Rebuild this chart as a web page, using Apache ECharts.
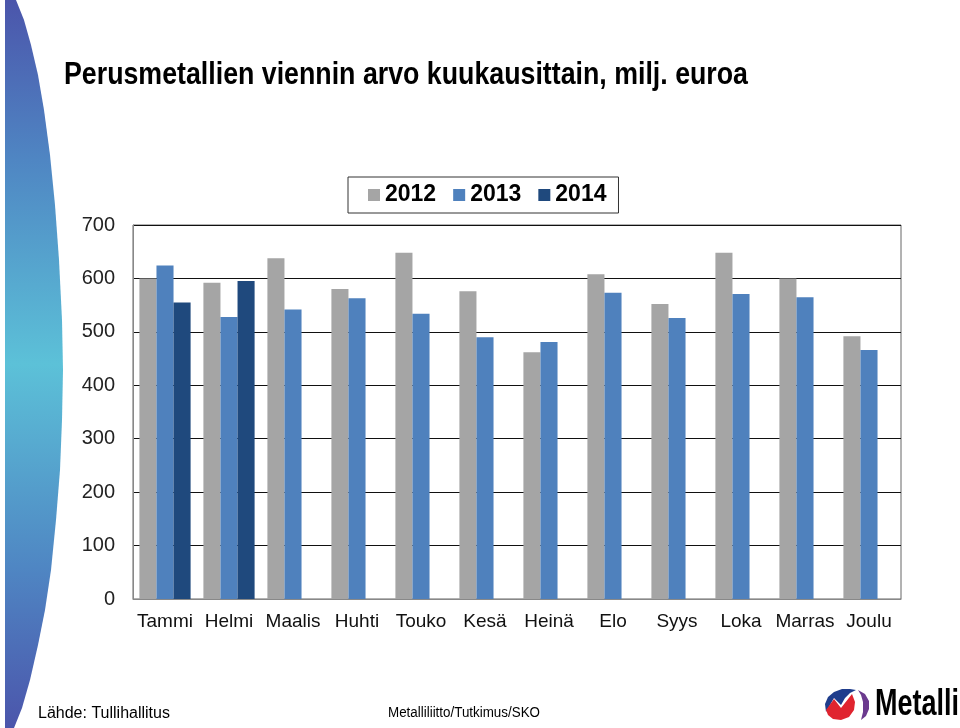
<!DOCTYPE html>
<html>
<head>
<meta charset="utf-8">
<script src="https://cdn.jsdelivr.net/npm/echarts@6/dist/echarts.min.js"></script>
<style>html,body{margin:0;padding:0;background:#fff;}#c{width:960px;height:728px;}</style>
</head>
<body>
<div id="c"></div>
<script>
var months = ['Tammi','Helmi','Maalis','Huhti','Touko','Kesä','Heinä','Elo','Syys','Loka','Marras','Joulu'];
var seriesNames = ['2012','2013','2014'];
var v2012 = [600, 592, 638, 580, 648, 576, 462, 608, 552, 648, 600, 492];
var v2013 = [624, 528, 542, 563, 534, 490, 481, 573, 526, 571, 565, 466];
var v2014 = [555, 595, null, null, null, null, null, null, null, null, null, null];
var yTicks = [0, 100, 200, 300, 400, 500, 600, 700];
var titleText = 'Perusmetallien viennin arvo kuukausittain, milj. euroa';
var sourceText = 'Lähde: Tullihallitus';
var footerText = 'Metalliliitto/Tutkimus/SKO';
var logoText = 'Metalli';

function fitScale(text, font, width) {
  var ctx = document.createElement('canvas').getContext('2d');
  ctx.font = font;
  return width / ctx.measureText(text).width;
}
var titleFont = 'bold 31px "Liberation Sans", Arial, sans-serif';
var titleScale = fitScale(titleText, titleFont, 684);
var logoFont = 'bold 36px "Liberation Sans", Arial, sans-serif';
var logoScale = fitScale(logoText, logoFont, 84);
var footerFont = '14px "Liberation Sans", Arial, sans-serif';
var footerScale = fitScale(footerText, footerFont, 152);

// decorative swoosh outline
var swoosh = [[5,0],[16,0],[24,20],[31,45],[38,75],[44,110],[50,155],[55,205],[59,260],[62,320],[63,370],[62,420],[60,470],[56,520],[51,570],[45,610],[38,645],[30,680],[22,708],[14,728],[5,728]];
// logo icon pieces
var logoBlue = [[826,712],[825,704],[828,697],[834,692],[842,689],[850,689],[856,690],[850,693],[845,698],[841,705],[834,698]];
var logoRed = [[826,710],[834,699],[841,708],[852,694],[855,702],[854,710],[849,717],[841,720],[833,719],[828,715]];
var logoPurple = [[858,690],[865,694],[869,701],[869,709],[866,716],[861,720],[863,712],[863,702],[861,695]];

var chart = echarts.init(document.getElementById('c'), null, {renderer: 'canvas'});
var colors = ['#a5a5a5', '#4f81bd', '#1f497d'];
var option = {
  animation: false,
  backgroundColor: '#ffffff',
  color: colors,
  grid: { left: 133, right: 59, top: 225, bottom: 129, show: true, borderColor: '#666', borderWidth: 1, backgroundColor: 'transparent' },
  legend: {
    data: seriesNames,
    left: 348, top: 177,
    padding: [6, 12, 6, 20],
    itemGap: 17,
    itemWidth: 12, itemHeight: 12,
    icon: 'rect',
    borderColor: '#333', borderWidth: 1,
    textStyle: { fontFamily: '"Liberation Sans", Arial, sans-serif', fontSize: 23, fontWeight: 'bold', color: '#000', lineHeight: 24 }
  },
  xAxis: {
    type: 'category', data: months,
    axisLine: { show: true, lineStyle: { color: '#888' } },
    axisTick: { show: false },
    axisLabel: { interval: 0, margin: 13, fontSize: 19, color: '#111', fontFamily: '"Liberation Sans", Arial, sans-serif' }
  },
  yAxis: {
    type: 'value', min: 0, max: 700, interval: 100,
    axisLine: { show: true, lineStyle: { color: '#888' } },
    axisTick: { show: false },
    axisLabel: { margin: 18, fontSize: 20, color: '#222', fontFamily: '"Liberation Sans", Arial, sans-serif',
      padding: [4, 0, 0, 0],
      formatter: function (v) { return yTicks.indexOf(v) >= 0 ? String(v) : ''; } },
    splitLine: { show: true, lineStyle: { color: '#111', width: 1 } }
  },
  series: [
    { name: seriesNames[0], type: 'bar', data: v2012, barGap: '0%', barCategoryGap: '20%' },
    { name: seriesNames[1], type: 'bar', data: v2013, barGap: '0%', barCategoryGap: '20%' },
    { name: seriesNames[2], type: 'bar', data: v2014, barGap: '0%', barCategoryGap: '20%' }
  ],
  graphic: [
    {
      type: 'polygon', z: -10,
      shape: { points: swoosh },
      style: {
        fill: { type: 'linear', x: 0, y: 0, x2: 0, y2: 1, colorStops: [
          { offset: 0, color: '#4b55ab' },
          { offset: 0.22, color: '#4f86c3' },
          { offset: 0.5, color: '#5cc1d8' },
          { offset: 0.78, color: '#4f86c3' },
          { offset: 1, color: '#4b55ab' }
        ] }
      }
    },
    {
      type: 'text', x: 64, y: 75, scaleX: titleScale,
      style: { text: titleText, font: titleFont, fill: '#000', verticalAlign: 'middle', align: 'left' }
    },
    {
      type: 'text', x: 38, y: 714,
      style: { text: sourceText, font: '16px "Liberation Sans", Arial, sans-serif', fill: '#000', verticalAlign: 'middle', align: 'left' }
    },
    {
      type: 'text', x: 388, y: 713, scaleX: footerScale,
      style: { text: footerText, font: footerFont, fill: '#000', verticalAlign: 'middle', align: 'left' }
    },
    { type: 'polygon', shape: { points: logoBlue }, style: { fill: '#1f3d8c' } },
    { type: 'polygon', shape: { points: logoRed }, style: { fill: '#e0242f' } },
    { type: 'polygon', shape: { points: logoPurple }, style: { fill: '#6b3a8e' } },
    {
      type: 'text', x: 875, y: 705, scaleX: logoScale,
      style: { text: logoText, font: logoFont, fill: '#000', verticalAlign: 'middle', align: 'left' }
    }
  ]
};
chart.setOption(option);
</script>
</body>
</html>
